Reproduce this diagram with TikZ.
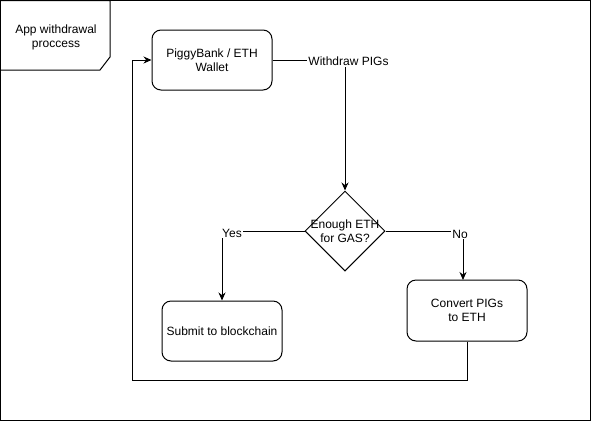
\documentclass[tikz,border=0pt]{standalone}
\usepackage{fontspec}
\setmainfont{Liberation Sans}
\usetikzlibrary{shapes.geometric,arrows.meta}
\begin{document}
\begin{tikzpicture}[x=1pt,y=-1pt,line width=1pt,
  font=\fontsize{12}{14}\selectfont,
  box/.style={draw,rounded corners=9pt,minimum width=120pt,align=center,inner sep=0pt},
  decision/.style={draw,diamond,minimum width=80pt,minimum height=80pt,inner sep=0pt},
  arr/.style={-{Stealth[length=8pt,width=7pt]}},
  lbl/.style={fill=white,inner sep=1pt}]
\useasboundingbox (0,0) rectangle (591,421);
\draw (0.5,0.5) rectangle (590.5,420.5);
% frame label
\draw (0.5,0.5) -- (110,0.5) -- (110,57) -- (100,70) -- (0.5,70);
\node[align=center] (title) at (56,37.5) {App withdrawal\\proccess};
% nodes
\node[box,minimum height=60pt] (pb) at (212,60) {PiggyBank / ETH\\Wallet};
\node[decision] (d) at (345,231) {};
\node[align=center,inner sep=0pt] (dt) at (d.center) {Enough ETH\\for GAS?};
\node[box,minimum height=60pt] (sub) at (222,331) {Submit to blockchain};
\node[box,minimum height=61pt] (conv) at (467,310.5) {Convert PIGs\\to ETH};
\coordinate (c1) at (132,380);
\coordinate (cn) at (463,280);
% edges
\draw[arr] (pb.east) -| (d.north);
\draw[arr] (d.west) -| (sub.north);
\draw[arr] (d.east) -| (cn);
\draw[arr] (conv.south) |- (c1) |- (pb.west);
% labels
\node[lbl] (l1) at (348.5,61.5) {Withdraw PIGs};
\node[lbl] (l2) at (232,233) {Yes};
\node[lbl] (l3) at (460,234) {No};
\end{tikzpicture}
\end{document}
